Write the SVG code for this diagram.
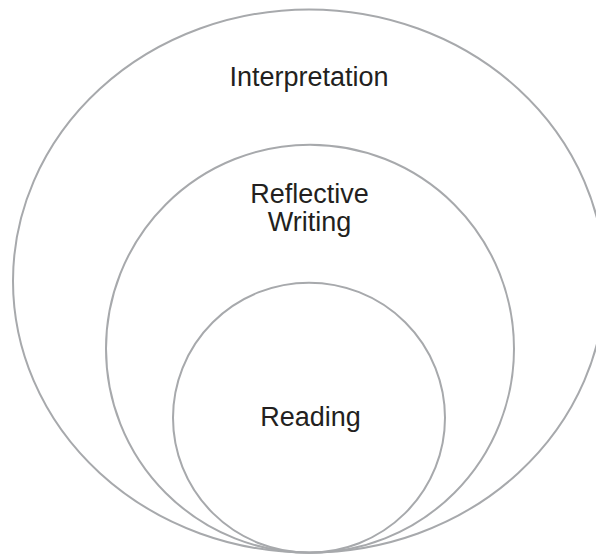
<svg xmlns="http://www.w3.org/2000/svg" width="596" height="555" viewBox="0 0 596 555">
<style>
.ring{fill:none;stroke:#a7a9ac;stroke-width:2}
.lbl{font-family:"Liberation Sans",Arial,sans-serif;font-size:27px;fill:#231f20;text-anchor:middle}
</style>
<rect width="596" height="555" fill="#ffffff"/>
<g id="interpretation">
<ellipse class="ring" cx="309" cy="281" rx="296" ry="271.5"/>
<text class="lbl" x="309" y="86">Interpretation</text>
</g>
<g id="reflective-writing">
<circle class="ring" cx="310" cy="348.7" r="204"/>
<text class="lbl" x="309.5" y="203">Reflective</text>
<text class="lbl" x="309.5" y="231">Writing</text>
</g>
<g id="reading">
<ellipse class="ring" cx="309" cy="417.7" rx="136" ry="135"/>
<text class="lbl" x="310.5" y="426">Reading</text>
</g>
<g id="connectors"/>
</svg>
